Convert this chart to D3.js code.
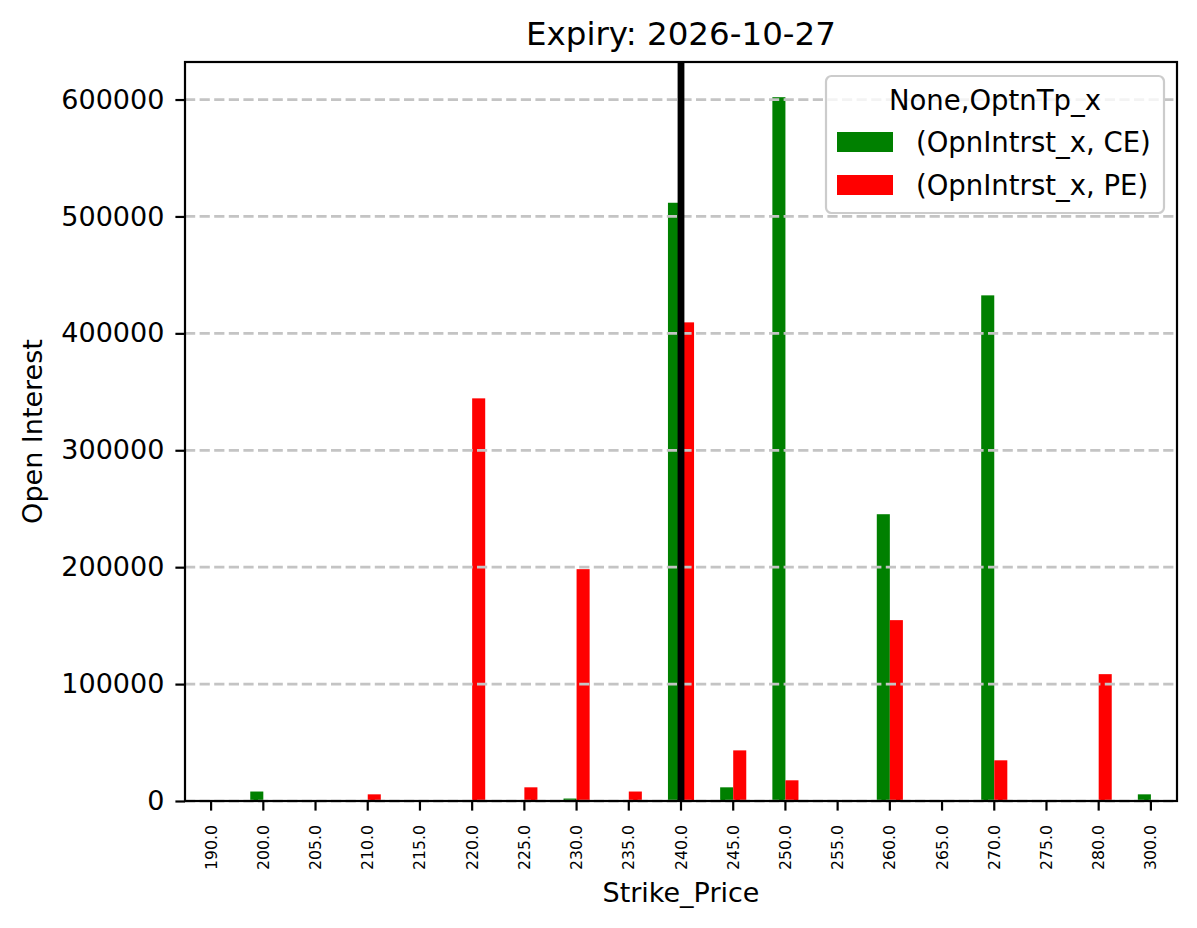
<!DOCTYPE html>
<html lang="en">
<head>
    <meta charset="UTF-8">
    <title>Expiry: 2026-10-27</title>
    <script src="https://d3js.org/d3.v7.min.js"></script>
    <style>
        body {
            margin: 0;
            background: #fff;
        }
        svg {
            font-family: "DejaVu Sans", sans-serif;
            display: block;
        }
        .grid line {
            stroke: #c4c4c4;
            stroke-width: 2.75px;
            stroke-dasharray: 10.2, 4.4;
        }
        .axis path {
            display: none;
        }
        .axis line {
            stroke: #000;
            stroke-width: 2.2px;
        }
    </style>
</head>
<body>
    <svg width="1197" height="928"></svg>
    <script>
        // strike prices on the x axis (pandas index, so they print as floats)
        const strikes = ["190.0", "200.0", "205.0", "210.0", "215.0", "220.0", "225.0", "230.0", "235.0", "240.0",
                         "245.0", "250.0", "255.0", "260.0", "265.0", "270.0", "275.0", "280.0", "300.0"];
        // open interest, calls and puts
        const ceOI = [0, 8100, 0, 0, 0, 0, 0, 2100, 0, 511700,
                      11700, 602000, 0, 245300, 0, 432500, 0, 0, 5700];
        const peOI = [0, 0, 0, 5700, 0, 344400, 11700, 198300, 8100, 409400,
                      43300, 17700, 0, 154700, 0, 34800, 0, 108500, 0];
        const seriesNames = ["(OpnIntrst_x, CE)", "(OpnIntrst_x, PE)"];
        const seriesKeys = ["CE", "PE"];
        const yTicks = [0, 100000, 200000, 300000, 400000, 500000, 600000];
        const spotStrike = "240.0";

        const svg = d3.select("svg"),
            margin = {top: 62, right: 20, bottom: 127, left: 185},
            width = +svg.attr("width") - margin.left - margin.right,
            height = +svg.attr("height") - margin.top - margin.bottom,
            g = svg.append("g").attr("transform", `translate(${margin.left},${margin.top})`);

        const colors = {CE: "#008000", PE: "#ff0000"};

        const rows = strikes.map((s, i) => ({strike: s, CE: ceOI[i], PE: peOI[i]}));

        const x = d3.scaleBand().domain(strikes).range([0, width]).padding(0);
        const bw = x.bandwidth();
        // pandas puts the two bars in the middle half of each slot
        const x1 = d3.scaleBand().domain(seriesKeys).range([bw * 0.25, bw * 0.75]).padding(0);

        const yMax = d3.max(rows, d => Math.max(d.CE, d.PE)) * 1.05;
        const y = d3.scaleLinear().domain([0, yMax]).range([height, 0]);

        // bars
        const groups = g.selectAll(".strike")
            .data(rows)
            .enter().append("g")
            .attr("class", "strike")
            .attr("transform", d => `translate(${x(d.strike)},0)`);

        groups.selectAll("rect")
            .data(d => seriesKeys.map(k => ({key: k, value: d[k]})))
            .enter().append("rect")
            .attr("x", d => x1(d.key))
            .attr("width", x1.bandwidth())
            .attr("y", d => y(d.value))
            .attr("height", d => height - y(d.value))
            .attr("fill", d => colors[d.key]);

        // dashed horizontal grid
        g.append("g")
            .attr("class", "grid")
            .selectAll("line")
            .data(yTicks)
            .enter().append("line")
            .attr("x1", 0)
            .attr("x2", width)
            .attr("y1", d => y(d))
            .attr("y2", d => y(d));

        // spot price marker
        g.append("line")
            .attr("x1", x(spotStrike) + bw / 2)
            .attr("x2", x(spotStrike) + bw / 2)
            .attr("y1", 0)
            .attr("y2", height)
            .attr("stroke", "#000")
            .attr("stroke-width", 6.8);

        // axes
        const xAxis = g.append("g")
            .attr("class", "axis axis--x")
            .attr("transform", `translate(0,${height})`)
            .call(d3.axisBottom(x).tickSize(9.6).tickSizeOuter(0));

        xAxis.selectAll("text")
            .attr("transform", "rotate(-90)")
            .attr("x", -24)
            .attr("y", 0)
            .attr("dy", "0.35em")
            .attr("text-anchor", "end")
            .attr("font-size", 15.7)
            .attr("font-family", "DejaVu Sans")
            .attr("fill", "#000");

        const yAxis = g.append("g")
            .attr("class", "axis axis--y")
            .call(d3.axisLeft(y).tickValues(yTicks).tickFormat(d3.format("d")).tickSize(9.6).tickPadding(11).tickSizeOuter(0));

        yAxis.selectAll("text")
            .attr("font-size", 27)
            .attr("font-family", "DejaVu Sans")
            .attr("fill", "#000");

        // frame
        g.append("rect")
            .attr("width", width)
            .attr("height", height)
            .attr("fill", "none")
            .attr("stroke", "#000")
            .attr("stroke-width", 2.2);

        // titles
        svg.append("text")
            .attr("x", margin.left + width / 2)
            .attr("y", 45)
            .attr("text-anchor", "middle")
            .attr("font-size", 32.5)
            .text("Expiry: 2026-10-27");

        svg.append("text")
            .attr("x", margin.left + width / 2)
            .attr("y", 902)
            .attr("text-anchor", "middle")
            .attr("font-size", 27)
            .text("Strike_Price");

        svg.append("text")
            .attr("transform", `translate(42,${margin.top + height / 2}) rotate(-90)`)
            .attr("text-anchor", "middle")
            .attr("font-size", 27)
            .text("Open Interest");

        // legend
        const legend = svg.append("g").attr("transform", "translate(826,76)");

        legend.append("rect")
            .attr("width", 338)
            .attr("height", 137)
            .attr("rx", 5.5)
            .attr("fill", "#fff")
            .attr("fill-opacity", 0.8)
            .attr("stroke", "#cccccc")
            .attr("stroke-width", 2.2);

        legend.append("text")
            .attr("x", 169)
            .attr("y", 34)
            .attr("text-anchor", "middle")
            .attr("font-size", 27.5)
            .text("None,OptnTp_x");

        const item = legend.selectAll(".item")
            .data(seriesKeys)
            .enter().append("g")
            .attr("class", "item")
            .attr("transform", (d, i) => `translate(0,${56 + i * 43})`);

        item.append("rect")
            .attr("x", 11)
            .attr("width", 56)
            .attr("height", 20)
            .attr("fill", d => colors[d]);

        item.append("text")
            .attr("x", 90)
            .attr("y", 20)
            .attr("font-size", 27.5)
            .text((d, i) => seriesNames[i]);
    </script>
</body>
</html>
